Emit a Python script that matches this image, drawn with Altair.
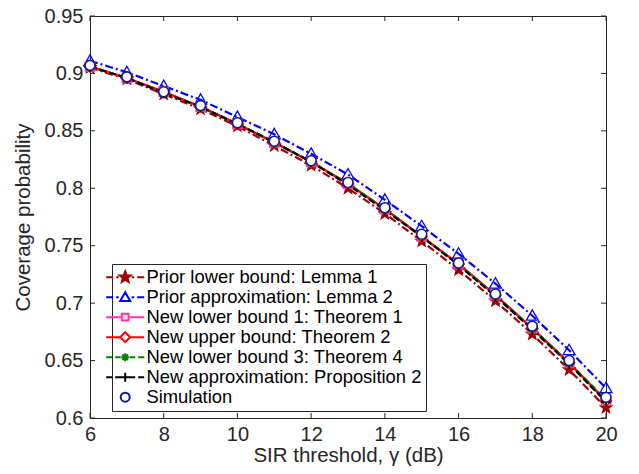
import math
import altair as alt
import pandas as pd

# ---------------- data ----------------
gamma_db = [6, 7, 8, 9, 10, 11, 12, 13, 14, 15, 16, 17, 18, 19, 20]

prior_lower_lemma1 = [0.905, 0.895, 0.882, 0.869, 0.854, 0.837, 0.820, 0.800, 0.778, 0.754, 0.729, 0.702, 0.673, 0.642, 0.609]
prior_approx_lemma2 = [0.911, 0.901, 0.889, 0.877, 0.862, 0.847, 0.830, 0.812, 0.790, 0.767, 0.743, 0.717, 0.689, 0.659, 0.626]
new_lower1_thm1 = [0.906, 0.896, 0.884, 0.871, 0.856, 0.840, 0.823, 0.804, 0.782, 0.758, 0.734, 0.707, 0.678, 0.648, 0.615]
new_upper_thm2 = [0.906, 0.896, 0.884, 0.871, 0.856, 0.840, 0.823, 0.804, 0.782, 0.758, 0.734, 0.707, 0.678, 0.648, 0.615]
new_lower3_thm4 = [0.906, 0.896, 0.883, 0.871, 0.856, 0.840, 0.823, 0.804, 0.782, 0.758, 0.734, 0.707, 0.678, 0.648, 0.616]
new_approx_prop2 = [0.906, 0.896, 0.883, 0.871, 0.856, 0.840, 0.823, 0.803, 0.781, 0.758, 0.733, 0.706, 0.677, 0.647, 0.614]
simulation = [0.907, 0.897, 0.884, 0.872, 0.857, 0.841, 0.824, 0.805, 0.783, 0.760, 0.735, 0.708, 0.680, 0.650, 0.618]

series_names = [
    "Prior lower bound: Lemma 1",
    "Prior approximation: Lemma 2",
    "New lower bound 1: Theorem 1",
    "New upper bound: Theorem 2",
    "New lower bound 3: Theorem 4",
    "New approximation: Proposition 2",
    "Simulation",
]
series_values = [prior_lower_lemma1, prior_approx_lemma2, new_lower1_thm1,
                 new_upper_thm2, new_lower3_thm4, new_approx_prop2, simulation]

x_ticks = [6, 8, 10, 12, 14, 16, 18, 20]
y_ticks = [0.6, 0.65, 0.7, 0.75, 0.8, 0.85, 0.9, 0.95]

# ---------------- styles ----------------
stroke_colors = ["#a00000", "#0000ff", "#ff33aa", "#ff0000", "#008000", "#000000", "#0b1f8a"]
fill_colors = ["#a00000", "transparent", "#e0e0e0", "#ffffff", "transparent", "transparent", "#ffffff"]
dashes = [[8, 3, 2, 3], [8, 3, 2, 3], [1, 0], [1, 0], [6, 4], [7, 3], [1, 0]]
marker_sizes = [150, 100, 90, 100, 64, 64, 72]
marker_widths = [1.2, 1.6, 1.6, 1.6, 1.5, 2.0, 2.6]


def poly(points, s=1.0):
    return "M" + "L".join(f"{px * s:.3f},{py * s:.3f}" for px, py in points) + "Z"


star_pts = []
for k in range(10):
    r = 1.0 if k % 2 == 0 else 0.42
    a = math.radians(-90 + 36 * k)
    star_pts.append((r * math.cos(a), r * math.sin(a)))


def marker_path(kind, s=1.0):
    if kind == "star":
        return poly(star_pts, s)
    if kind == "tri":
        return poly([(0, -1), (1, 0.75), (-1, 0.75)], s)
    if kind == "square":
        return poly([(-0.8, -0.8), (0.8, -0.8), (0.8, 0.8), (-0.8, 0.8)], s)
    if kind == "diamond":
        return poly([(0, -1), (1, 0), (0, 1), (-1, 0)], s)
    if kind == "asterisk":
        d = 0.7 * s
        return (f"M{-s},0H{s}M0,{-s}V{s}M{-d},{-d}L{d},{d}M{-d},{d}L{d},{-d}")
    if kind == "plus":
        return f"M{-s},0H{s}M0,{-s}V{s}"
    if kind == "circle":
        return f"M{s},0A{s},{s} 0 1,1 {-s},0A{s},{s} 0 1,1 {s},0Z"
    return ""


marker_kinds = ["star", "tri", "square", "diamond", "asterisk", "plus", "circle"]
legend_marker_scale = [1.15, 1.0, 0.85, 1.0, 0.8, 0.9, 0.9]
line_solid = "M-3.8,0H-0.9M0.9,0H3.8"
line_dashdot = "M-3.8,0H-2.4M-1.8,0H-1.3M1.3,0H1.8M2.4,0H3.8"
line_dashed = "M-3.8,0H-2.6M-2.0,0H-0.9M0.9,0H2.0M2.6,0H3.8"
legend_lines = [line_dashdot, line_dashdot, line_solid, line_solid, line_dashed, line_dashed, ""]

point_shapes = [marker_path(k) for k in marker_kinds]
legend_shapes = [ll + marker_path(k, s) for ll, k, s in zip(legend_lines, marker_kinds, legend_marker_scale)]

rows = []
for name, vals in zip(series_names, series_values):
    for g, v in zip(gamma_db, vals):
        rows.append({"x": g, "y": v, "series": name})
df = pd.DataFrame(rows)

W, H = 516, 402
FONT = "Liberation Sans"
AX = "#262626"

x_scale = alt.Scale(domain=[6, 20], nice=False, zero=False)
y_scale = alt.Scale(domain=[0.6, 0.95], nice=False, zero=False)

x_enc = alt.X("x:Q", scale=x_scale,
              axis=alt.Axis(values=x_ticks, title="SIR threshold, γ (dB)", grid=False, ticks=False,
                            labelPadding=6, labelFlush=False, format="d",
                            titleY=43, titleBaseline="alphabetic"))
y_enc = alt.Y("y:Q", scale=y_scale,
              axis=alt.Axis(values=y_ticks, title="Coverage probability", grid=False, ticks=False,
                            labelPadding=7, labelFlush=False, titlePadding=11, format="~g"))


def sc(rng):
    return alt.Scale(domain=series_names, range=rng)


lines = alt.Chart(df).transform_filter(alt.datum.series != "Simulation").mark_line(
    strokeWidth=2.2, clip=True
).encode(
    x=x_enc, y=y_enc,
    stroke=alt.Stroke("series:N", scale=sc(stroke_colors), legend=None),
    strokeDash=alt.StrokeDash("series:N", scale=sc(dashes), legend=None),
)

points = alt.Chart(df).mark_point(filled=False, opacity=1).encode(
    x=x_enc, y=y_enc,
    shape=alt.Shape("series:N", scale=sc(point_shapes), legend=None),
    stroke=alt.Stroke("series:N", scale=sc(stroke_colors), legend=None),
    fill=alt.Fill("series:N", scale=sc(fill_colors), legend=None),
    size=alt.Size("series:N", scale=sc(marker_sizes), legend=None),
    strokeWidth=alt.StrokeWidth("series:N", scale=sc(marker_widths), legend=None),
)

leg = alt.Legend(
    title=None, orient="none", legendX=22, legendY=248, direction="vertical",
    labelFont=FONT, labelFontSize=18.4, labelColor="#000000", labelLimit=400,
    symbolSize=100, symbolStrokeWidth=2, symbolOpacity=1, labelOffset=12,
    rowPadding=1.0, padding=4, strokeColor=AX, fillColor="#ffffff",
)

legend_layer = alt.Chart(df).transform_filter(alt.datum.x == 6).mark_point(opacity=0, filled=False).encode(
    x=x_enc, y=y_enc,
    shape=alt.Shape("series:N", scale=sc(legend_shapes), legend=leg),
    stroke=alt.Stroke("series:N", scale=sc(stroke_colors), legend=leg),
    fill=alt.Fill("series:N", scale=sc(fill_colors), legend=leg),
)

xt = pd.DataFrame({"x": x_ticks})
yt = pd.DataFrame({"y": y_ticks})
tick_style = dict(color=AX, strokeWidth=1)
xt_bottom = alt.Chart(xt).mark_rule(**tick_style).encode(
    x=x_enc, y=alt.value(H - 5), y2=alt.value(H))
xt_top = alt.Chart(xt).mark_rule(**tick_style).encode(
    x=x_enc, y=alt.value(0), y2=alt.value(5))
yt_left = alt.Chart(yt).mark_rule(**tick_style).encode(
    y=y_enc, x=alt.value(0), x2=alt.value(5))
yt_right = alt.Chart(yt).mark_rule(**tick_style).encode(
    y=y_enc, x=alt.value(W - 5), x2=alt.value(W))

chart = alt.layer(
    lines, points, legend_layer, xt_bottom, xt_top, yt_left, yt_right
).resolve_scale(
    shape="independent", stroke="independent", fill="independent"
).properties(
    width=W, height=H,
    autosize=alt.AutoSizeParams(type="none"),
    padding={"left": 82, "top": 8, "right": 25, "bottom": 48},
    background="white",
).configure_view(
    stroke=AX, strokeWidth=1
).configure_axis(
    domainColor=AX, labelColor=AX, titleColor=AX, labelFont=FONT, titleFont=FONT,
    labelFontSize=20, titleFontSize=20.5, titleFontWeight="normal",
)

chart.save("out.html", embed_options={"renderer": "svg", "actions": False})
